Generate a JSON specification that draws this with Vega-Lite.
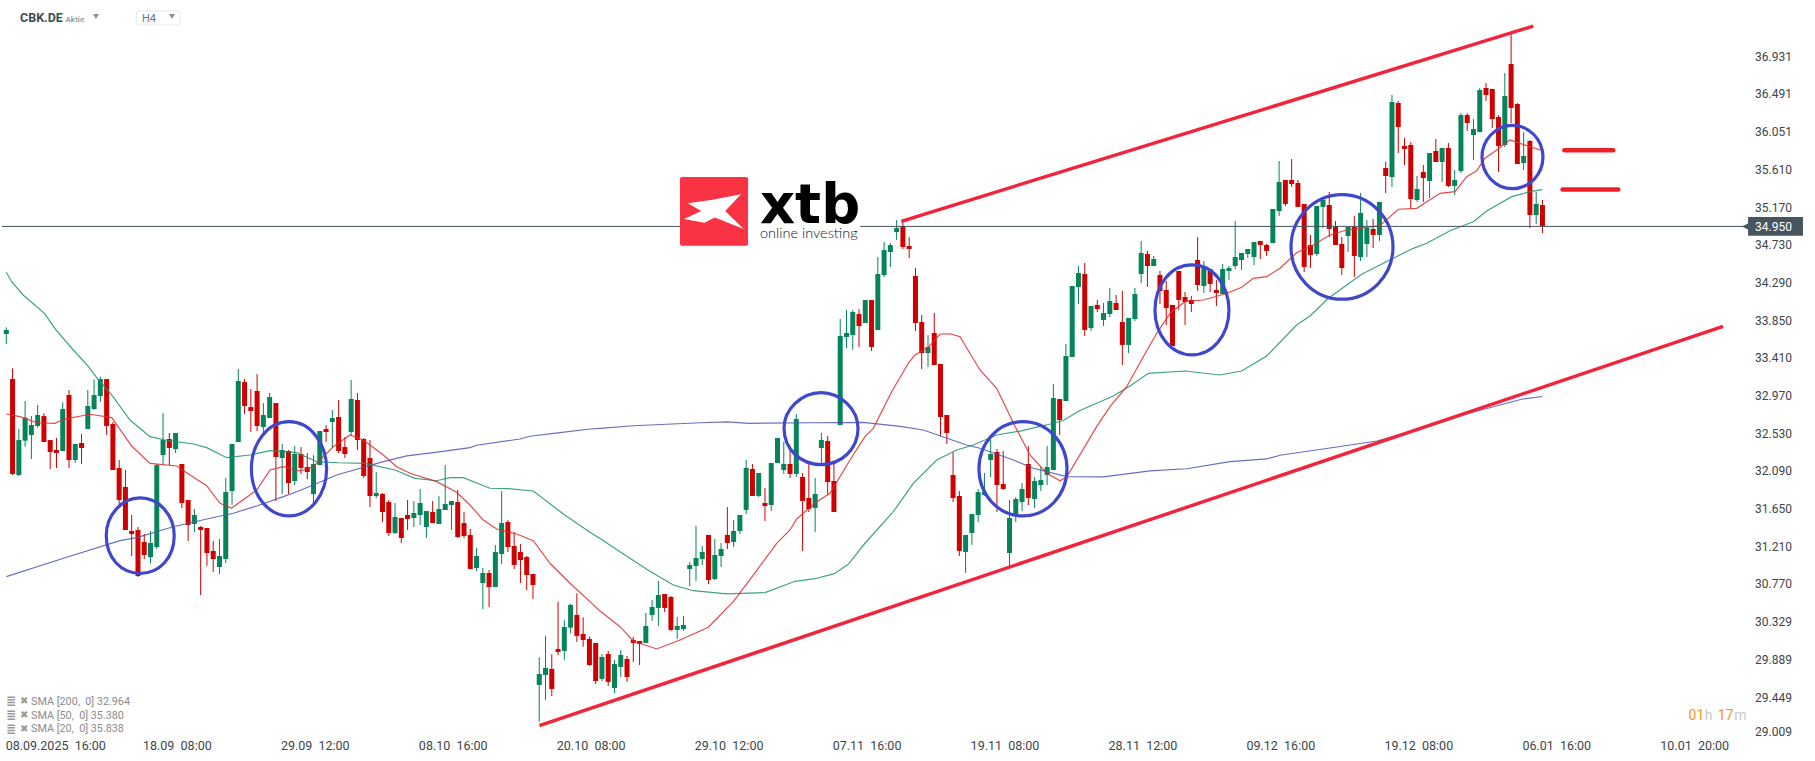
{
  "$schema": "https://vega.github.io/schema/vega-lite/v6.json",
  "description": "CBK.DE H4 candles with SMA 20, 50, 200 and drawn channel",
  "width": 1815,
  "height": 761,
  "padding": 0,
  "autosize": "none",
  "background": "#ffffff",
  "config": {"view": {"stroke": null}, "text": {"font": "Roboto", "align": "left", "baseline": "middle"}},
  "datasets": {
    "candles": [
      {"i":0,"high":33.771,"low":33.577,"open":33.694,"close":33.740},
      {"i":1,"high":33.293,"low":32.048,"open":33.168,"close":32.059},
      {"i":2,"high":32.585,"low":32.036,"open":32.048,"close":32.456},
      {"i":3,"high":32.911,"low":32.378,"open":32.448,"close":32.717},
      {"i":4,"high":32.736,"low":32.234,"open":32.515,"close":32.631},
      {"i":5,"high":32.865,"low":32.600,"open":32.620,"close":32.748},
      {"i":6,"high":32.768,"low":32.433,"open":32.736,"close":32.433},
      {"i":7,"high":32.456,"low":32.118,"open":32.456,"close":32.316},
      {"i":8,"high":32.480,"low":32.129,"open":32.340,"close":32.305},
      {"i":9,"high":32.896,"low":32.328,"open":32.328,"close":32.818},
      {"i":10,"high":33.040,"low":32.129,"open":32.982,"close":32.223},
      {"i":11,"high":32.410,"low":32.188,"open":32.223,"close":32.410},
      {"i":12,"high":32.526,"low":32.176,"open":32.421,"close":32.363},
      {"i":13,"high":33.040,"low":32.585,"open":32.585,"close":32.853},
      {"i":14,"high":33.164,"low":32.806,"open":32.818,"close":32.982},
      {"i":15,"high":33.196,"low":32.900,"open":32.970,"close":33.168},
      {"i":16,"high":33.168,"low":32.515,"open":33.168,"close":32.620},
      {"i":17,"high":32.666,"low":32.106,"open":32.643,"close":32.106},
      {"i":18,"high":32.223,"low":31.697,"open":32.129,"close":31.756},
      {"i":19,"high":32.106,"low":31.406,"open":31.908,"close":31.406},
      {"i":20,"high":31.581,"low":31.102,"open":31.394,"close":31.359},
      {"i":21,"high":31.441,"low":30.857,"open":31.406,"close":30.869},
      {"i":22,"high":31.359,"low":31.067,"open":31.266,"close":31.114},
      {"i":23,"high":31.394,"low":31.020,"open":31.090,"close":31.254},
      {"i":24,"high":32.176,"low":31.184,"open":31.207,"close":32.164},
      {"i":25,"high":32.771,"low":32.164,"open":32.281,"close":32.456},
      {"i":26,"high":32.538,"low":32.164,"open":32.468,"close":32.363},
      {"i":27,"high":32.538,"low":32.305,"open":32.351,"close":32.538},
      {"i":28,"high":32.176,"low":31.662,"open":32.176,"close":31.721},
      {"i":29,"high":31.756,"low":31.277,"open":31.756,"close":31.464},
      {"i":30,"high":31.651,"low":31.382,"open":31.476,"close":31.581},
      {"i":31,"high":31.452,"low":30.647,"open":31.441,"close":31.406},
      {"i":32,"high":31.429,"low":30.985,"open":31.429,"close":31.137},
      {"i":33,"high":31.277,"low":30.915,"open":31.161,"close":31.067},
      {"i":34,"high":31.301,"low":30.892,"open":30.974,"close":31.102},
      {"i":35,"high":32.013,"low":31.020,"open":31.067,"close":31.849},
      {"i":36,"high":32.410,"low":31.697,"open":31.861,"close":32.410},
      {"i":37,"high":33.285,"low":32.433,"open":32.433,"close":33.145},
      {"i":38,"high":33.168,"low":32.760,"open":33.133,"close":32.853},
      {"i":39,"high":33.052,"low":32.550,"open":32.841,"close":32.795},
      {"i":40,"high":33.227,"low":32.561,"open":33.028,"close":32.620},
      {"i":41,"high":32.888,"low":32.515,"open":32.608,"close":32.748},
      {"i":42,"high":33.005,"low":32.713,"open":32.713,"close":32.958},
      {"i":43,"high":32.888,"low":31.744,"open":32.888,"close":32.258},
      {"i":44,"high":32.410,"low":31.826,"open":32.246,"close":32.340},
      {"i":45,"high":32.340,"low":31.826,"open":32.328,"close":31.954},
      {"i":46,"high":32.386,"low":31.931,"open":31.978,"close":32.293},
      {"i":47,"high":32.374,"low":32.059,"open":32.293,"close":32.129},
      {"i":48,"high":32.304,"low":32.001,"open":32.141,"close":32.083},
      {"i":49,"high":32.281,"low":31.717,"open":31.826,"close":32.176},
      {"i":50,"high":32.561,"low":32.164,"open":32.164,"close":32.561},
      {"i":51,"high":32.631,"low":32.433,"open":32.585,"close":32.550},
      {"i":52,"high":32.806,"low":32.363,"open":32.666,"close":32.713},
      {"i":53,"high":32.923,"low":32.304,"open":32.725,"close":32.328},
      {"i":54,"high":32.491,"low":32.246,"open":32.374,"close":32.293},
      {"i":55,"high":33.157,"low":32.503,"open":32.550,"close":32.935},
      {"i":56,"high":33.005,"low":32.339,"open":32.923,"close":32.456},
      {"i":57,"high":32.480,"low":32.013,"open":32.468,"close":32.036},
      {"i":58,"high":32.456,"low":31.674,"open":32.246,"close":31.802},
      {"i":59,"high":32.083,"low":31.779,"open":31.802,"close":31.838},
      {"i":60,"high":31.838,"low":31.499,"open":31.826,"close":31.616},
      {"i":61,"high":31.756,"low":31.336,"open":31.732,"close":31.371},
      {"i":62,"high":31.721,"low":31.359,"open":31.371,"close":31.557},
      {"i":63,"high":31.546,"low":31.254,"open":31.546,"close":31.312},
      {"i":64,"high":31.756,"low":31.406,"open":31.581,"close":31.534},
      {"i":65,"high":31.744,"low":31.441,"open":31.546,"close":31.604},
      {"i":66,"high":31.884,"low":31.464,"open":31.581,"close":31.721},
      {"i":67,"high":31.627,"low":31.312,"open":31.441,"close":31.627},
      {"i":68,"high":31.744,"low":31.487,"open":31.616,"close":31.487},
      {"i":69,"high":31.802,"low":31.476,"open":31.476,"close":31.651},
      {"i":70,"high":32.164,"low":31.639,"open":31.639,"close":31.709},
      {"i":71,"high":31.744,"low":31.406,"open":31.697,"close":31.744},
      {"i":72,"high":31.873,"low":31.312,"open":31.732,"close":31.324},
      {"i":73,"high":31.616,"low":31.312,"open":31.487,"close":31.336},
      {"i":74,"high":31.417,"low":30.950,"open":31.347,"close":30.950},
      {"i":75,"high":31.195,"low":30.927,"open":30.962,"close":31.102},
      {"i":76,"high":30.962,"low":30.483,"open":30.787,"close":30.904},
      {"i":77,"high":30.939,"low":30.507,"open":30.904,"close":30.740},
      {"i":78,"high":31.230,"low":30.740,"open":30.740,"close":31.149},
      {"i":79,"high":31.861,"low":31.009,"open":31.125,"close":31.487},
      {"i":80,"high":31.522,"low":31.149,"open":31.499,"close":31.207},
      {"i":81,"high":31.382,"low":30.950,"open":31.219,"close":30.997},
      {"i":82,"high":31.242,"low":30.787,"open":31.149,"close":31.055},
      {"i":83,"high":31.102,"low":30.705,"open":31.090,"close":30.880},
      {"i":84,"high":30.892,"low":30.600,"open":30.892,"close":30.764},
      {"i":85,"high":29.920,"low":29.169,"open":29.597,"close":29.725},
      {"i":86,"high":30.169,"low":29.422,"open":29.713,"close":29.795},
      {"i":87,"high":29.955,"low":29.468,"open":29.784,"close":29.550},
      {"i":88,"high":30.569,"low":29.947,"open":30.017,"close":29.982},
      {"i":89,"high":30.356,"low":29.889,"open":29.994,"close":30.274},
      {"i":90,"high":30.542,"low":30.200,"open":30.266,"close":30.531},
      {"i":91,"high":30.667,"low":30.099,"open":30.414,"close":30.169},
      {"i":92,"high":30.387,"low":30.044,"open":30.192,"close":30.122},
      {"i":93,"high":30.161,"low":29.819,"open":30.134,"close":29.830},
      {"i":94,"high":30.087,"low":29.608,"open":30.087,"close":29.643},
      {"i":95,"high":29.958,"low":29.643,"open":29.667,"close":29.923},
      {"i":96,"high":29.993,"low":29.585,"open":29.958,"close":29.632},
      {"i":97,"high":29.888,"low":29.503,"open":29.562,"close":29.842},
      {"i":98,"high":30.005,"low":29.690,"open":29.807,"close":29.947},
      {"i":99,"high":29.935,"low":29.632,"open":29.900,"close":29.690},
      {"i":100,"high":30.157,"low":29.865,"open":30.122,"close":30.087},
      {"i":101,"high":30.110,"low":29.830,"open":30.110,"close":30.075},
      {"i":102,"high":30.437,"low":30.087,"open":30.087,"close":30.285},
      {"i":103,"high":30.589,"low":30.344,"open":30.414,"close":30.507},
      {"i":104,"high":30.811,"low":30.285,"open":30.496,"close":30.647},
      {"i":105,"high":30.659,"low":30.449,"open":30.659,"close":30.496},
      {"i":106,"high":30.636,"low":30.227,"open":30.624,"close":30.239},
      {"i":107,"high":30.390,"low":30.134,"open":30.239,"close":30.285},
      {"i":108,"high":30.402,"low":30.227,"open":30.250,"close":30.297},
      {"i":109,"high":31.033,"low":30.752,"open":30.951,"close":30.997},
      {"i":110,"high":31.453,"low":30.811,"open":30.986,"close":31.079},
      {"i":111,"high":31.219,"low":30.997,"open":31.068,"close":31.149},
      {"i":112,"high":31.348,"low":30.776,"open":31.348,"close":30.822},
      {"i":113,"high":31.301,"low":30.822,"open":30.834,"close":31.114},
      {"i":114,"high":31.254,"low":30.974,"open":31.103,"close":31.184},
      {"i":115,"high":31.675,"low":31.184,"open":31.348,"close":31.254},
      {"i":116,"high":31.523,"low":31.208,"open":31.266,"close":31.394},
      {"i":117,"high":31.581,"low":31.359,"open":31.394,"close":31.581},
      {"i":118,"high":32.223,"low":31.593,"open":31.640,"close":32.130},
      {"i":119,"high":32.176,"low":31.803,"open":32.118,"close":31.803},
      {"i":120,"high":32.071,"low":31.791,"open":31.803,"close":32.071},
      {"i":121,"high":31.896,"low":31.511,"open":31.721,"close":31.686},
      {"i":122,"high":32.188,"low":31.628,"open":31.698,"close":32.188},
      {"i":123,"high":32.480,"low":32.188,"open":32.188,"close":32.480},
      {"i":124,"high":32.433,"low":32.060,"open":32.106,"close":32.176},
      {"i":125,"high":32.340,"low":32.013,"open":32.176,"close":32.060},
      {"i":126,"high":32.760,"low":32.025,"open":32.060,"close":32.702},
      {"i":127,"high":32.071,"low":31.161,"open":32.025,"close":31.745},
      {"i":128,"high":32.188,"low":31.616,"open":31.780,"close":31.651},
      {"i":129,"high":32.013,"low":31.383,"open":31.663,"close":31.826},
      {"i":130,"high":32.538,"low":32.176,"open":32.363,"close":32.457},
      {"i":131,"high":32.503,"low":31.815,"open":32.445,"close":31.966},
      {"i":132,"high":32.188,"low":31.616,"open":31.978,"close":31.616},
      {"i":133,"high":33.869,"low":32.631,"open":32.631,"close":33.670},
      {"i":134,"high":33.974,"low":33.530,"open":33.659,"close":33.705},
      {"i":135,"high":33.974,"low":33.507,"open":33.682,"close":33.950},
      {"i":136,"high":33.985,"low":33.542,"open":33.927,"close":33.787},
      {"i":137,"high":34.090,"low":33.822,"open":33.822,"close":34.090},
      {"i":138,"high":34.090,"low":33.495,"open":34.090,"close":33.542},
      {"i":139,"high":34.592,"low":33.740,"open":33.740,"close":34.394},
      {"i":140,"high":34.767,"low":34.359,"open":34.382,"close":34.674},
      {"i":141,"high":34.756,"low":34.476,"open":34.651,"close":34.732},
      {"i":142,"high":35.024,"low":34.791,"open":34.884,"close":34.931},
      {"i":143,"high":35.001,"low":34.686,"open":34.954,"close":34.709},
      {"i":144,"high":34.826,"low":34.581,"open":34.721,"close":34.686},
      {"i":145,"high":34.464,"low":33.729,"open":34.371,"close":33.822},
      {"i":146,"high":33.915,"low":33.285,"open":33.834,"close":33.472},
      {"i":147,"high":33.682,"low":33.308,"open":33.472,"close":33.542},
      {"i":148,"high":33.939,"low":33.332,"open":33.705,"close":33.332},
      {"i":149,"high":33.343,"low":32.503,"open":33.343,"close":32.725},
      {"i":150,"high":32.748,"low":32.410,"open":32.748,"close":32.538},
      {"i":151,"high":32.316,"low":31.733,"open":32.048,"close":31.779},
      {"i":152,"high":31.861,"low":31.102,"open":31.803,"close":31.161},
      {"i":153,"high":31.347,"low":30.904,"open":31.149,"close":31.347},
      {"i":154,"high":31.592,"low":31.231,"open":31.371,"close":31.592},
      {"i":155,"high":31.884,"low":31.499,"open":31.581,"close":31.849},
      {"i":156,"high":32.071,"low":31.803,"open":31.814,"close":31.849},
      {"i":157,"high":32.456,"low":32.024,"open":32.223,"close":32.293},
      {"i":158,"high":32.351,"low":31.616,"open":32.316,"close":31.931},
      {"i":159,"high":32.328,"low":31.873,"open":31.943,"close":31.884},
      {"i":160,"high":31.756,"low":30.985,"open":31.137,"close":31.546},
      {"i":161,"high":31.791,"low":31.499,"open":31.581,"close":31.768},
      {"i":162,"high":31.954,"low":31.627,"open":31.733,"close":31.884},
      {"i":163,"high":32.386,"low":31.697,"open":32.176,"close":31.779},
      {"i":164,"high":32.024,"low":31.662,"open":31.768,"close":31.978},
      {"i":165,"high":32.141,"low":31.861,"open":31.931,"close":31.989},
      {"i":166,"high":32.386,"low":31.931,"open":32.048,"close":32.141},
      {"i":167,"high":33.110,"low":32.106,"open":32.106,"close":32.946},
      {"i":168,"high":32.935,"low":32.515,"open":32.935,"close":32.690},
      {"i":169,"high":33.577,"low":32.911,"open":32.911,"close":33.437},
      {"i":170,"high":34.254,"low":33.425,"open":33.425,"close":34.254},
      {"i":171,"high":34.487,"low":34.044,"open":34.242,"close":34.406},
      {"i":172,"high":34.523,"low":33.671,"open":34.394,"close":33.741},
      {"i":173,"high":34.021,"low":33.729,"open":33.764,"close":34.021},
      {"i":174,"high":34.091,"low":33.951,"open":34.033,"close":33.986},
      {"i":175,"high":34.056,"low":33.787,"open":33.857,"close":33.939},
      {"i":176,"high":34.231,"low":33.892,"open":33.927,"close":34.079},
      {"i":177,"high":34.149,"low":33.974,"open":34.056,"close":33.974},
      {"i":178,"high":34.196,"low":33.332,"open":33.834,"close":33.566},
      {"i":179,"high":33.881,"low":33.472,"open":33.566,"close":33.881},
      {"i":180,"high":34.231,"low":33.846,"open":33.869,"close":34.161},
      {"i":181,"high":34.780,"low":34.289,"open":34.394,"close":34.640},
      {"i":182,"high":34.663,"low":34.243,"open":34.628,"close":34.488},
      {"i":183,"high":34.605,"low":34.488,"open":34.488,"close":34.569},
      {"i":184,"high":34.429,"low":34.044,"open":34.383,"close":34.196},
      {"i":185,"high":34.313,"low":33.799,"open":34.208,"close":33.998},
      {"i":186,"high":34.033,"low":33.554,"open":34.033,"close":33.554},
      {"i":187,"high":34.429,"low":33.974,"open":34.429,"close":34.091},
      {"i":188,"high":34.184,"low":33.799,"open":34.126,"close":34.068},
      {"i":189,"high":34.138,"low":33.951,"open":34.091,"close":34.044},
      {"i":190,"high":34.826,"low":34.196,"open":34.558,"close":34.266},
      {"i":191,"high":34.546,"low":34.173,"open":34.254,"close":34.488},
      {"i":192,"high":34.453,"low":34.184,"open":34.453,"close":34.278},
      {"i":193,"high":34.324,"low":34.021,"open":34.208,"close":34.173},
      {"i":194,"high":34.511,"low":34.161,"open":34.161,"close":34.453},
      {"i":195,"high":34.488,"low":34.324,"open":34.429,"close":34.464},
      {"i":196,"high":35.013,"low":34.453,"open":34.488,"close":34.593},
      {"i":197,"high":34.640,"low":34.441,"open":34.558,"close":34.640},
      {"i":198,"high":34.686,"low":34.581,"open":34.628,"close":34.686},
      {"i":199,"high":34.768,"low":34.499,"open":34.593,"close":34.768},
      {"i":200,"high":34.780,"low":34.569,"open":34.780,"close":34.733},
      {"i":201,"high":34.745,"low":34.605,"open":34.733,"close":34.663},
      {"i":202,"high":35.153,"low":34.756,"open":34.756,"close":35.153},
      {"i":203,"high":35.713,"low":35.071,"open":35.130,"close":35.468},
      {"i":204,"high":35.492,"low":35.188,"open":35.492,"close":35.212},
      {"i":205,"high":35.737,"low":35.410,"open":35.492,"close":35.445},
      {"i":206,"high":35.492,"low":35.177,"open":35.457,"close":35.177},
      {"i":207,"high":35.212,"low":34.418,"open":35.212,"close":34.476},
      {"i":208,"high":34.850,"low":34.464,"open":34.733,"close":34.616},
      {"i":209,"high":35.188,"low":34.605,"open":34.628,"close":35.188},
      {"i":210,"high":35.258,"low":34.931,"open":35.177,"close":35.258},
      {"i":211,"high":35.352,"low":34.826,"open":35.200,"close":34.920},
      {"i":212,"high":35.013,"low":34.733,"open":34.943,"close":34.733},
      {"i":213,"high":34.826,"low":34.383,"open":34.745,"close":34.464},
      {"i":214,"high":34.943,"low":34.651,"open":34.838,"close":34.943},
      {"i":215,"high":35.071,"low":34.359,"open":34.943,"close":34.605},
      {"i":216,"high":35.340,"low":34.546,"open":34.593,"close":35.107},
      {"i":217,"high":35.025,"low":34.593,"open":34.745,"close":34.931},
      {"i":218,"high":35.036,"low":34.698,"open":34.920,"close":34.850},
      {"i":219,"high":35.235,"low":34.780,"open":34.850,"close":35.235},
      {"i":220,"high":35.702,"low":35.340,"open":35.632,"close":35.538},
      {"i":221,"high":36.484,"low":35.410,"open":35.527,"close":36.402},
      {"i":222,"high":36.414,"low":35.807,"open":36.391,"close":36.110},
      {"i":223,"high":35.982,"low":35.667,"open":35.889,"close":35.854},
      {"i":224,"high":35.935,"low":35.165,"open":35.900,"close":35.270},
      {"i":225,"high":35.538,"low":35.235,"open":35.258,"close":35.387},
      {"i":226,"high":35.667,"low":35.235,"open":35.585,"close":35.515},
      {"i":227,"high":35.807,"low":35.282,"open":35.480,"close":35.807},
      {"i":228,"high":35.970,"low":35.702,"open":35.830,"close":35.702},
      {"i":229,"high":35.865,"low":35.468,"open":35.702,"close":35.865},
      {"i":230,"high":35.924,"low":35.410,"open":35.865,"close":35.422},
      {"i":231,"high":35.608,"low":35.317,"open":35.422,"close":35.492},
      {"i":232,"high":36.274,"low":35.573,"open":35.597,"close":36.250},
      {"i":233,"high":36.274,"low":36.064,"open":36.250,"close":36.157},
      {"i":234,"high":36.204,"low":35.725,"open":36.017,"close":36.087},
      {"i":235,"high":36.566,"low":36.052,"open":36.052,"close":36.542},
      {"i":236,"high":36.624,"low":36.414,"open":36.566,"close":36.484},
      {"i":237,"high":36.554,"low":36.099,"open":36.554,"close":36.204},
      {"i":238,"high":36.250,"low":35.585,"open":36.227,"close":35.889},
      {"i":239,"high":36.741,"low":35.877,"open":35.900,"close":36.472},
      {"i":240,"high":37.204,"low":36.157,"open":36.846,"close":36.332},
      {"i":241,"high":36.391,"low":35.678,"open":36.379,"close":35.678},
      {"i":242,"high":36.052,"low":35.608,"open":35.690,"close":35.772},
      {"i":243,"high":35.959,"low":34.931,"open":35.947,"close":35.083},
      {"i":244,"high":35.352,"low":34.978,"open":35.083,"close":35.212},
      {"i":245,"high":35.258,"low":34.873,"open":35.200,"close":34.955}
    ],
    "sma": [
      {"s":"200","i":0,"p":30.861},{"s":"200","i":9.63,"p":31.087},{"s":"200","i":18.13,"p":31.281},{"s":"200","i":20.8,"p":31.316},{"s":"200","i":26.63,"p":31.444},{"s":"200","i":31.96,"p":31.534},{"s":"200","i":36.2,"p":31.601},{"s":"200","i":39.94,"p":31.686},{"s":"200","i":44.18,"p":31.795},{"s":"200","i":46.84,"p":31.867},{"s":"200","i":52.69,"p":32.048},{"s":"200","i":60.13,"p":32.203},{"s":"200","i":63.86,"p":32.270},{"s":"200","i":68.1,"p":32.308},{"s":"200","i":73.95,"p":32.367},{"s":"200","i":75.02,"p":32.395},{"s":"200","i":81.93,"p":32.468},{"s":"200","i":83.52,"p":32.500},{"s":"200","i":88.31,"p":32.542},{"s":"200","i":93.09,"p":32.585},{"s":"200","i":94.69,"p":32.593},{"s":"200","i":100,"p":32.623},{"s":"200","i":110.64,"p":32.658},{"s":"200","i":114.9,"p":32.667},{"s":"200","i":118.61,"p":32.651},{"s":"200","i":128.71,"p":32.658},{"s":"200","i":136.68,"p":32.661},{"s":"200","i":142.54,"p":32.616},{"s":"200","i":146.25,"p":32.573},{"s":"200","i":153.17,"p":32.398},{"s":"200","i":155.29,"p":32.360},{"s":"200","i":160.61,"p":32.223},{"s":"200","i":163.79,"p":32.126},{"s":"200","i":169.12,"p":32.028},{"s":"200","i":174.96,"p":32.025},{"s":"200","i":182.41,"p":32.095},{"s":"200","i":188.26,"p":32.121},{"s":"200","i":195.17,"p":32.203},{"s":"200","i":201.02,"p":32.235},{"s":"200","i":203.14,"p":32.278},{"s":"200","i":211.12,"p":32.363},{"s":"200","i":218.6,"p":32.445},{"s":"200","i":227.06,"p":32.620},{"s":"200","i":233.44,"p":32.772},{"s":"200","i":241.82,"p":32.935},{"s":"200","i":245,"p":32.964},
      {"s":"50","i":0,"p":34.414},{"s":"50","i":0.85,"p":34.304},{"s":"50","i":2.68,"p":34.149},{"s":"50","i":6.08,"p":33.935},{"s":"50","i":7.91,"p":33.741},{"s":"50","i":10.69,"p":33.507},{"s":"50","i":13.11,"p":33.312},{"s":"50","i":14.47,"p":33.180},{"s":"50","i":16.81,"p":32.982},{"s":"50","i":19.73,"p":32.690},{"s":"50","i":22.92,"p":32.495},{"s":"50","i":25.84,"p":32.448},{"s":"50","i":29.83,"p":32.410},{"s":"50","i":31.96,"p":32.367},{"s":"50","i":35.15,"p":32.250},{"s":"50","i":38.87,"p":32.281},{"s":"50","i":42.06,"p":32.332},{"s":"50","i":46.32,"p":32.308},{"s":"50","i":49.51,"p":32.203},{"s":"50","i":52.95,"p":32.191},{"s":"50","i":57.21,"p":32.184},{"s":"50","i":61.99,"p":32.106},{"s":"50","i":65.18,"p":32.009},{"s":"50","i":68.64,"p":31.981},{"s":"50","i":70.77,"p":32.016},{"s":"50","i":72.89,"p":32.016},{"s":"50","i":77.14,"p":31.893},{"s":"50","i":80.06,"p":31.888},{"s":"50","i":84.05,"p":31.861},{"s":"50","i":88.84,"p":31.592},{"s":"50","i":93.09,"p":31.379},{"s":"50","i":94.69,"p":31.307},{"s":"50","i":97.88,"p":31.152},{"s":"50","i":102.14,"p":30.947},{"s":"50","i":106.38,"p":30.764},{"s":"50","i":109.57,"p":30.697},{"s":"50","i":114.9,"p":30.659},{"s":"50","i":121,"p":30.674},{"s":"50","i":125.79,"p":30.807},{"s":"50","i":128.98,"p":30.837},{"s":"50","i":132.06,"p":30.896},{"s":"50","i":134.29,"p":31.005},{"s":"50","i":136.95,"p":31.251},{"s":"50","i":141.47,"p":31.619},{"s":"50","i":144.66,"p":31.951},{"s":"50","i":148.39,"p":32.223},{"s":"50","i":151.58,"p":32.340},{"s":"50","i":154.23,"p":32.398},{"s":"50","i":157.96,"p":32.515},{"s":"50","i":161.67,"p":32.561},{"s":"50","i":165.93,"p":32.632},{"s":"50","i":168.58,"p":32.684},{"s":"50","i":171.24,"p":32.801},{"s":"50","i":176.55,"p":32.970},{"s":"50","i":179.22,"p":33.087},{"s":"50","i":182.14,"p":33.235},{"s":"50","i":187.99,"p":33.262},{"s":"50","i":193.57,"p":33.215},{"s":"50","i":197.03,"p":33.262},{"s":"50","i":201.02,"p":33.437},{"s":"50","i":205.8,"p":33.799},{"s":"50","i":207.93,"p":33.904},{"s":"50","i":210.85,"p":34.111},{"s":"50","i":216.17,"p":34.391},{"s":"50","i":220.41,"p":34.550},{"s":"50","i":224.4,"p":34.694},{"s":"50","i":226.54,"p":34.753},{"s":"50","i":230.25,"p":34.900},{"s":"50","i":233.97,"p":35.005},{"s":"50","i":236.11,"p":35.130},{"s":"50","i":240.1,"p":35.297},{"s":"50","i":243,"p":35.355},{"s":"50","i":245,"p":35.380},
      {"s":"20","i":0,"p":32.760},{"s":"20","i":2.19,"p":32.729},{"s":"20","i":4.85,"p":32.658},{"s":"20","i":7.77,"p":32.651},{"s":"20","i":9.09,"p":32.698},{"s":"20","i":13.35,"p":32.757},{"s":"20","i":16.81,"p":32.717},{"s":"20","i":20,"p":32.386},{"s":"20","i":22.92,"p":32.184},{"s":"20","i":27.18,"p":32.153},{"s":"20","i":29.3,"p":32.048},{"s":"20","i":31.96,"p":31.923},{"s":"20","i":34.08,"p":31.717},{"s":"20","i":35.95,"p":31.663},{"s":"20","i":39.94,"p":31.873},{"s":"20","i":42.06,"p":32.106},{"s":"20","i":44.18,"p":32.145},{"s":"20","i":46.84,"p":32.095},{"s":"20","i":48.96,"p":32.145},{"s":"20","i":52.15,"p":32.378},{"s":"20","i":54.82,"p":32.515},{"s":"20","i":56.94,"p":32.456},{"s":"20","i":60.13,"p":32.281},{"s":"20","i":62.26,"p":32.145},{"s":"20","i":64.39,"p":32.068},{"s":"20","i":68.64,"p":31.970},{"s":"20","i":71.83,"p":31.846},{"s":"20","i":73.95,"p":31.698},{"s":"20","i":76.08,"p":31.522},{"s":"20","i":78.21,"p":31.417},{"s":"20","i":81.4,"p":31.359},{"s":"20","i":84.05,"p":31.281},{"s":"20","i":86.71,"p":31.017},{"s":"20","i":89.9,"p":30.784},{"s":"20","i":93.09,"p":30.569},{"s":"20","i":94.69,"p":30.460},{"s":"20","i":97.88,"p":30.277},{"s":"20","i":100,"p":30.110},{"s":"20","i":103.73,"p":30.017},{"s":"20","i":107.45,"p":30.122},{"s":"20","i":111.96,"p":30.270},{"s":"20","i":115.95,"p":30.569},{"s":"20","i":119.14,"p":30.880},{"s":"20","i":122.87,"p":31.250},{"s":"20","i":124.99,"p":31.406},{"s":"20","i":126.06,"p":31.534},{"s":"20","i":129.25,"p":31.736},{"s":"20","i":131.37,"p":31.834},{"s":"20","i":134.56,"p":32.223},{"s":"20","i":136.95,"p":32.495},{"s":"20","i":138.28,"p":32.593},{"s":"20","i":141.21,"p":33.020},{"s":"20","i":143.86,"p":33.352},{"s":"20","i":144.93,"p":33.449},{"s":"20","i":147.05,"p":33.539},{"s":"20","i":148.92,"p":33.694},{"s":"20","i":150.51,"p":33.697},{"s":"20","i":152.1,"p":33.662},{"s":"20","i":155.29,"p":33.274},{"s":"20","i":157.96,"p":33.060},{"s":"20","i":160.64,"p":32.651},{"s":"20","i":163.27,"p":32.281},{"s":"20","i":165.93,"p":32.068},{"s":"20","i":168.05,"p":31.981},{"s":"20","i":169.12,"p":32.025},{"s":"20","i":173.9,"p":32.612},{"s":"20","i":176.03,"p":32.845},{"s":"20","i":178.69,"p":33.079},{"s":"20","i":181.34,"p":33.429},{"s":"20","i":183.48,"p":33.702},{"s":"20","i":185.6,"p":33.935},{"s":"20","i":187.99,"p":34.071},{"s":"20","i":190.91,"p":34.091},{"s":"20","i":194.37,"p":34.161},{"s":"20","i":197.03,"p":34.239},{"s":"20","i":198.88,"p":34.344},{"s":"20","i":201.02,"p":34.363},{"s":"20","i":203.14,"p":34.461},{"s":"20","i":205.8,"p":34.643},{"s":"20","i":208.45,"p":34.733},{"s":"20","i":211.12,"p":34.850},{"s":"20","i":213.78,"p":34.908},{"s":"20","i":219.09,"p":34.958},{"s":"20","i":222.01,"p":35.150},{"s":"20","i":224.94,"p":35.161},{"s":"20","i":228.66,"p":35.336},{"s":"20","i":231.05,"p":35.355},{"s":"20","i":232.92,"p":35.530},{"s":"20","i":234.51,"p":35.600},{"s":"20","i":235.83,"p":35.745},{"s":"20","i":237.7,"p":35.842},{"s":"20","i":239.82,"p":35.959},{"s":"20","i":243,"p":35.880},{"s":"20","i":244.88,"p":35.838}
    ],
    "circles": [
      {"c":1,"n":0,"i":26.78,"p":31.34},{"c":1,"n":1,"i":25.19,"p":31.65},{"c":1,"n":2,"i":21.36,"p":31.78},{"c":1,"n":3,"i":17.53,"p":31.65},{"c":1,"n":4,"i":15.94,"p":31.34},{"c":1,"n":5,"i":17.53,"p":31.02},{"c":1,"n":6,"i":21.36,"p":30.90},{"c":1,"n":7,"i":25.19,"p":31.02},
      {"c":2,"n":0,"i":51.09,"p":32.12},{"c":2,"n":1,"i":49.33,"p":32.51},{"c":2,"n":2,"i":45.09,"p":32.67},{"c":2,"n":3,"i":40.85,"p":32.51},{"c":2,"n":4,"i":39.09,"p":32.12},{"c":2,"n":5,"i":40.85,"p":31.73},{"c":2,"n":6,"i":45.09,"p":31.57},{"c":2,"n":7,"i":49.33,"p":31.73},
      {"c":3,"n":0,"i":135.84,"p":32.59},{"c":3,"n":1,"i":134.11,"p":32.88},{"c":3,"n":2,"i":129.94,"p":33.01},{"c":3,"n":3,"i":125.77,"p":32.88},{"c":3,"n":4,"i":124.04,"p":32.59},{"c":3,"n":5,"i":125.77,"p":32.29},{"c":3,"n":6,"i":129.94,"p":32.17},{"c":3,"n":7,"i":134.11,"p":32.29},
      {"c":4,"n":0,"i":169.17,"p":32.12},{"c":4,"n":1,"i":167.11,"p":32.51},{"c":4,"n":2,"i":162.15,"p":32.67},{"c":4,"n":3,"i":157.19,"p":32.51},{"c":4,"n":4,"i":155.13,"p":32.12},{"c":4,"n":5,"i":157.19,"p":31.73},{"c":4,"n":6,"i":162.15,"p":31.57},{"c":4,"n":7,"i":167.11,"p":31.73},
      {"c":5,"n":0,"i":195.0,"p":33.97},{"c":5,"n":1,"i":193.27,"p":34.35},{"c":5,"n":2,"i":189.1,"p":34.50},{"c":5,"n":3,"i":184.93,"p":34.35},{"c":5,"n":4,"i":183.2,"p":33.97},{"c":5,"n":5,"i":184.93,"p":33.60},{"c":5,"n":6,"i":189.1,"p":33.45},{"c":5,"n":7,"i":193.27,"p":33.60},
      {"c":6,"n":0,"i":221.16,"p":34.71},{"c":6,"n":1,"i":218.78,"p":35.14},{"c":6,"n":2,"i":213.03,"p":35.32},{"c":6,"n":3,"i":207.28,"p":35.14},{"c":6,"n":4,"i":204.9,"p":34.71},{"c":6,"n":5,"i":207.28,"p":34.28},{"c":6,"n":6,"i":213.03,"p":34.10},{"c":6,"n":7,"i":218.78,"p":34.28},
      {"c":7,"n":0,"i":245.08,"p":35.76},{"c":7,"n":1,"i":243.66,"p":36.02},{"c":7,"n":2,"i":240.22,"p":36.13},{"c":7,"n":3,"i":236.78,"p":36.02},{"c":7,"n":4,"i":235.36,"p":35.76},{"c":7,"n":5,"i":236.78,"p":35.50},{"c":7,"n":6,"i":240.22,"p":35.39},{"c":7,"n":7,"i":243.66,"p":35.50}
    ],
    "priceScale": [
      {"i":278.9,"p":36.931,"label":"36.931"},{"i":278.9,"p":36.491,"label":"36.491"},{"i":278.9,"p":36.051,"label":"36.051"},{"i":278.9,"p":35.61,"label":"35.610"},{"i":278.9,"p":35.17,"label":"35.170"},{"i":278.9,"p":34.73,"label":"34.730"},{"i":278.9,"p":34.29,"label":"34.290"},{"i":278.9,"p":33.85,"label":"33.850"},{"i":278.9,"p":33.41,"label":"33.410"},{"i":278.9,"p":32.97,"label":"32.970"},{"i":278.9,"p":32.53,"label":"32.530"},{"i":278.9,"p":32.09,"label":"32.090"},{"i":278.9,"p":31.65,"label":"31.650"},{"i":278.9,"p":31.21,"label":"31.210"},{"i":278.9,"p":30.77,"label":"30.770"},{"i":278.9,"p":30.329,"label":"30.329"},{"i":278.9,"p":29.889,"label":"29.889"},{"i":278.9,"p":29.449,"label":"29.449"},{"i":278.9,"p":29.05,"label":"29.009"}
    ]
  },
  "encoding": {
    "x": {
      "field": "i",
      "type": "quantitative",
      "scale": {"domain": [-1.005, 288.47], "nice": false, "zero": false, "padding": 0},
      "axis": {
        "orient": "bottom",
        "offset": -22,
        "title": null,
        "domain": false,
        "ticks": false,
        "grid": false,
        "labelPadding": 0,
        "labelBaseline": "top",
        "labelFont": "Roboto",
        "labelFontSize": 12.5,
        "labelColor": "#3d454b",
        "labelOverlap": false,
        "labelFlush": false,
        "values": [7.8, 27.2, 49.2, 71.2, 93.2, 115.2, 137.2, 159.2, 181.2, 203.2, 225.2, 247.2, 269.2],
        "labelExpr": "{'7.8':'08.09.2025\u00a0 16:00','27.2':'18.09\u00a0 08:00','49.2':'29.09\u00a0 12:00','71.2':'08.10\u00a0 16:00','93.2':'20.10\u00a0 08:00','115.2':'29.10\u00a0 12:00','137.2':'07.11\u00a0 16:00','159.2':'19.11\u00a0 08:00','181.2':'28.11\u00a0 12:00','203.2':'09.12\u00a0 16:00','225.2':'19.12\u00a0 08:00','247.2':'06.01\u00a0 16:00','269.2':'10.01\u00a0 20:00'}[''+datum.value]"
      }
    },
    "y": {
      "field": "p",
      "type": "quantitative",
      "scale": {"domain": [28.709, 37.593], "nice": false, "zero": false},
      "axis": null
    }
  },
  "layer": [
    {
      "data": {"name": "candles"},
      "mark": {"type": "rule", "strokeWidth": 1},
      "encoding": {
        "y": {"field": "low", "type": "quantitative", "scale": {"domain": [28.709, 37.593], "nice": false, "zero": false}, "axis": null},
        "y2": {"field": "high"},
        "color": {"condition": {"test": "datum.close > datum.open", "value": "#05845c"}, "value": "#cf0000"}
      }
    },
    {
      "data": {"name": "candles"},
      "mark": {"type": "bar", "size": 5},
      "encoding": {
        "y": {"field": "open", "type": "quantitative", "scale": {"domain": [28.709, 37.593], "nice": false, "zero": false}, "axis": null},
        "y2": {"field": "close"},
        "color": {"condition": {"test": "datum.close > datum.open", "value": "#05845c"}, "value": "#cf0000"}
      }
    },
    {
      "data": {"name": "sma"},
      "mark": {"type": "line", "strokeWidth": 1.2, "opacity": 0.85},
      "encoding": {
        "color": {"field": "s", "type": "nominal", "legend": null, "scale": {"domain": ["200", "50", "20"], "range": ["#4f55b5", "#1f9270", "#e02b2b"]}}
      }
    },
    {
      "data": {"values": [{"i": -0.7, "i2": 277.3, "p": 34.95}]},
      "mark": {"type": "rule", "color": "#42525c", "strokeWidth": 1},
      "encoding": {"x2": {"field": "i2"}}
    },
    {
      "data": {"values": [
        {"id": "upper", "i": 142.74, "p": 35.01}, {"id": "upper", "i": 243.54, "p": 37.289},
        {"id": "lower", "i": 85.02, "p": 29.121}, {"id": "lower", "i": 273.8, "p": 33.784}
      ]},
      "mark": {"type": "line", "color": "#f3243a", "strokeWidth": 3.4},
      "encoding": {"detail": {"field": "id"}}
    },
    {
      "data": {"values": [
        {"id": "sma20", "i": 248.5, "p": 35.838}, {"id": "sma20", "i": 256.3, "p": 35.838},
        {"id": "sma50", "i": 248.2, "p": 35.38}, {"id": "sma50", "i": 257.1, "p": 35.38}
      ]},
      "mark": {"type": "line", "color": "#ed2027", "strokeWidth": 4.5, "strokeCap": "round"},
      "encoding": {"detail": {"field": "id"}}
    },
    {
      "data": {"name": "circles"},
      "mark": {"type": "line", "color": "#3f48cc", "strokeWidth": 3.2, "interpolate": "cardinal-closed", "tension": -0.125},
      "encoding": {"detail": {"field": "c"}, "order": {"field": "n"}}
    },
    {
      "data": {"values": [{"i": 107.45, "i2": 136.2, "p": 35.527, "p2": 34.725}]},
      "mark": {"type": "rect", "color": "#ffffff"},
      "encoding": {"x2": {"field": "i2"}, "y2": {"field": "p2"}}
    },
    {
      "data": {"values": [{"i": 107.45, "i2": 118.3, "p": 35.527, "p2": 34.725}]},
      "mark": {"type": "rect", "color": "#fa3344", "cornerRadius": 2},
      "encoding": {"x2": {"field": "i2"}, "y2": {"field": "p2"}}
    },
    {
      "data": {"values": [{"i": 112.87, "p": 35.126}]},
      "mark": {
        "type": "point",
        "filled": true,
        "color": "#ffffff",
        "opacity": 1,
        "size": 3600,
        "shape": "M -0.873 -0.267 L -0.103 -0.377 L 0.9 -0.567 L 0.373 -0.01 L 0.99 0.59 L 0.027 0.21 L -0.32 0.377 L -1 0.257 L -0.423 -0.01 Z"
      }
    },
    {
      "data": {"values": [{"i": 120.2, "p": 34.99, "text": "xtb"}]},
      "mark": {"type": "text", "font": "DejaVu Sans", "fontWeight": "bold", "fontSize": 54.5, "color": "#000000", "baseline": "alphabetic"},
      "encoding": {"text": {"field": "text"}}
    },
    {
      "data": {"values": [{"i": 120.2, "p": 34.815, "text": "online investing"}]},
      "mark": {"type": "text", "font": "Lato", "fontWeight": 300, "fontSize": 14.5, "color": "#111111", "baseline": "alphabetic"},
      "encoding": {"text": {"field": "text"}}
    },
    {
      "data": {"values": [{"i": 278.1, "p": 34.95}]},
      "mark": {"type": "point", "filled": true, "color": "#46555f", "opacity": 1, "size": 256, "shape": "M 1 -1 L -1 0 L 1 1 Z"}
    },
    {
      "data": {"values": [{"i": 277.8, "i2": 286.55, "p": 35.06, "p2": 34.84}]},
      "mark": {"type": "rect", "color": "#46555f"},
      "encoding": {"x2": {"field": "i2"}, "y2": {"field": "p2"}}
    },
    {
      "data": {"values": [{"i": 278.9, "p": 34.94, "text": "34.950"}]},
      "mark": {"type": "text", "fontSize": 12, "color": "#ffffff"},
      "encoding": {"text": {"field": "text"}}
    },
    {
      "data": {"name": "priceScale"},
      "mark": {"type": "text", "fontSize": 12, "color": "#3d454b"},
      "encoding": {"text": {"field": "label"}}
    },
    {
      "data": {"values": [{"i": 2.18, "p": 37.379, "text": "CBK.DE"}]},
      "mark": {"type": "text", "fontSize": 12.5, "fontWeight": "bold", "color": "#3c4a54"},
      "encoding": {"text": {"field": "text"}}
    },
    {
      "data": {"values": [{"i": 9.44, "p": 37.365, "text": "Aktie"}]},
      "mark": {"type": "text", "fontSize": 8, "fontWeight": "bold", "color": "#9a9fa3"},
      "encoding": {"text": {"field": "text"}}
    },
    {
      "data": {"values": [{"i": 20.73, "i2": 27.7, "p": 37.465, "p2": 37.301}]},
      "mark": {"type": "rect", "fill": "#ffffff", "stroke": "#e4e6e8", "cornerRadius": 2},
      "encoding": {"x2": {"field": "i2"}, "y2": {"field": "p2"}}
    },
    {
      "data": {"values": [{"i": 21.64, "p": 37.371, "text": "H4"}]},
      "mark": {"type": "text", "fontSize": 11, "color": "#6b747a"},
      "encoding": {"text": {"field": "text"}}
    },
    {
      "data": {"values": [{"i": 14.3, "p": 37.40}, {"i": 26.43, "p": 37.40}]},
      "mark": {"type": "point", "filled": true, "shape": "triangle-down", "color": "#8a8f93", "opacity": 1, "size": 35}
    },
    {
      "data": {"values": [
        {"i": 3.94, "p": 29.401, "text": "SMA [200,\u00a0 0] 32.964"},
        {"i": 3.94, "p": 29.238, "text": "SMA [50,\u00a0 0] 35.380"},
        {"i": 3.94, "p": 29.079, "text": "SMA [20,\u00a0 0] 35.838"}
      ]},
      "mark": {"type": "text", "fontSize": 10.8, "color": "#8c8c8c"},
      "encoding": {"text": {"field": "text"}}
    },
    {
      "data": {"values": [
        {"i": -0.05, "p": 29.41, "text": "≣"},
        {"i": -0.05, "p": 29.247, "text": "≣"},
        {"i": -0.05, "p": 29.088, "text": "≣"}
      ]},
      "mark": {"type": "text", "font": "DejaVu Sans", "fontWeight": "bold", "fontSize": 12, "color": "#9a9a9a"},
      "encoding": {"text": {"field": "text"}}
    },
    {
      "data": {"values": [
        {"i": 2.19, "p": 29.41, "text": "✖"},
        {"i": 2.19, "p": 29.247, "text": "✖"},
        {"i": 2.19, "p": 29.088, "text": "✖"}
      ]},
      "mark": {"type": "text", "font": "DejaVu Sans", "fontSize": 10, "color": "#9a9a9a"},
      "encoding": {"text": {"field": "text"}}
    },
    {
      "data": {"values": [{"i": 268.3, "p": 29.234, "text": "01"}, {"i": 272.95, "p": 29.234, "text": "17"}]},
      "mark": {"type": "text", "fontSize": 14, "color": "#f7931e"},
      "encoding": {"text": {"field": "text"}}
    },
    {
      "data": {"values": [{"i": 270.9, "p": 29.234, "text": "h"}, {"i": 275.6, "p": 29.234, "text": "m"}]},
      "mark": {"type": "text", "fontSize": 14, "color": "#c9c9c9"},
      "encoding": {"text": {"field": "text"}}
    }
  ]
}
